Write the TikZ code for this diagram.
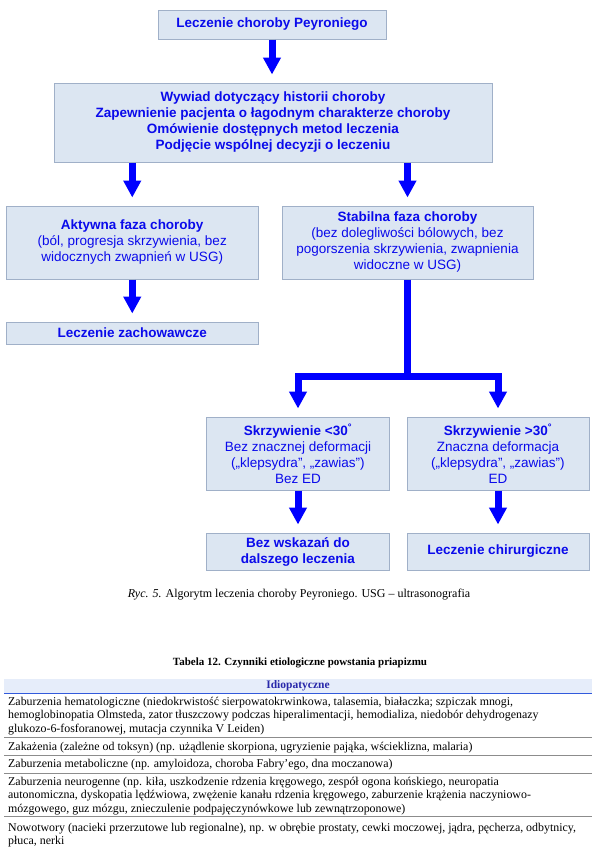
\documentclass[tikz,border=0pt]{standalone}
\usepackage{fontspec}
\setmainfont{Liberation Serif}
\newfontfamily\fcfont{Liberation Sans}
\usetikzlibrary{arrows.meta}
\definecolor{boxfill}{RGB}{220,230,242}
\definecolor{boxedge}{RGB}{160,176,200}
\definecolor{fcblue}{RGB}{0,0,255}
\definecolor{fctext}{RGB}{10,10,235}
\definecolor{hdrfill}{RGB}{230,237,250}
\definecolor{hdrline}{RGB}{50,90,220}
\definecolor{hdrtext}{RGB}{40,40,170}
\definecolor{sepgray}{RGB}{140,140,140}
\tikzset{
  fcbox/.style={draw=boxedge, fill=boxfill, line width=1, inner sep=0, align=center,
    text=fctext, font=\fcfont\fontsize{13.5}{16}\selectfont},
  blk/.style={draw=fcblue, line width=7, -{Triangle[length=17pt,width=17pt]}, shorten >=8pt},
  barline/.style={draw=fcblue, line width=7},
  tabtext/.style={anchor=base west, inner sep=0, font=\fontsize{11.9}{13.5}\selectfont},
  sepline/.style={draw=sepgray, line width=0.8},
}
\begin{document}
\begin{tikzpicture}[x=1pt,y=-1pt]
\fill[white] (0,0) rectangle (600,857);
\useasboundingbox (0,0) rectangle (600,857);

% flowchart boxes
\node[fcbox, minimum width=228, minimum height=29] (top) at (272,24.5) {\textbf{Leczenie choroby Peyroniego}};
\node[fcbox, minimum width=438, minimum height=79] (hist) at (273,122.5) {\textbf{Wywiad dotyczący historii choroby}\\\textbf{Zapewnienie pacjenta o łagodnym charakterze choroby}\\\textbf{Omówienie dostępnych metod leczenia}\\\textbf{Podjęcie wspólnej decyzji o leczeniu}};
\node[fcbox, minimum width=251.5, minimum height=73] (akt) at (132.25,242.5) {\textbf{Aktywna faza choroby}\\(ból, progresja skrzywienia, bez\\widocznych zwapnień w USG)};
\node[fcbox, minimum width=251, minimum height=73] (stab) at (407.5,242.5) {\textbf{Stabilna faza choroby}\\(bez dolegliwości bólowych, bez\\pogorszenia skrzywienia, zwapnienia\\widoczne w USG)};
\node[fcbox, minimum width=251.5, minimum height=22] (zach) at (132.25,333) {\textbf{Leczenie zachowawcze}};
\node[fcbox, minimum width=183, minimum height=73] (skL) at (298,453.5) {\textbf{Skrzywienie <30\textsuperscript{°}}\\Bez znacznej deformacji\\(„klepsydra”, „zawias”)\\Bez ED};
\node[fcbox, minimum width=182, minimum height=73] (skR) at (498,453.5) {\textbf{Skrzywienie >30\textsuperscript{°}}\\Znaczna deformacja\\(„klepsydra”, „zawias”)\\ED};
\node[fcbox, minimum width=183, minimum height=37] (bezL) at (298,551.5) {\textbf{Bez wskazań do}\\\textbf{dalszego leczenia}};
\node[fcbox, minimum width=182, minimum height=37] (chir) at (498,551.5) {\textbf{Leczenie chirurgiczne}};

% connectors
\draw[blk] (top.south) -- (top.south |- hist.north);
\draw[blk] (hist.south -| akt.north) -- (akt.north);
\draw[blk] (hist.south -| stab.north) -- (stab.north);
\draw[blk] (akt.south) -- (zach.north);
\coordinate (jn) at (407.5,376);
\draw[barline] (stab.south) -- (jn);
\draw[blk] (jn) -| (skL.north);
\draw[blk] (jn) -| (skR.north);
\draw[blk] (skL.south) -- (bezL.north);
\draw[blk] (skR.south) -- (chir.north);

% caption
\node[inner sep=0, font=\fontsize{12}{14}\selectfont] (cap) at (299,595) {\textit{Ryc. 5.} Algorytm leczenia choroby Peyroniego. USG – ultrasonografia};

% table
\node[inner sep=0, font=\bfseries\fontsize{11}{13}\selectfont] (ttl) at (300,663) {Tabela 12. Czynniki etiologiczne powstania priapizmu};
\fill[hdrfill] (4,679) rectangle (592,693);
\draw[hdrline, line width=1] (4,693) -- (592,693);
\node[inner sep=0, text=hdrtext, font=\bfseries\fontsize{11.5}{12}\selectfont] (hdr) at (298,686) {Idiopatyczne};

\node[tabtext] (r1a) at (8,705) {Zaburzenia hematologiczne (niedokrwistość sierpowatokrwinkowa, talasemia, białaczka; szpiczak mnogi,};
\node[tabtext] (r1b) at (8,718.5) {hemoglobinopatia Olmsteda, zator tłuszczowy podczas hiperalimentacji, hemodializa, niedobór dehydrogenazy};
\node[tabtext] (r1c) at (8,732) {glukozo-6-fosforanowej, mutacja czynnika V Leiden)};
\draw[sepline] (4,737) -- (592,737);
\node[tabtext] (r2a) at (8,750) {Zakażenia (zależne od toksyn) (np. użądlenie skorpiona, ugryzienie pająka, wścieklizna, malaria)};
\draw[sepline] (4,755) -- (592,755);
\node[tabtext] (r3a) at (8,767.5) {Zaburzenia metaboliczne (np. amyloidoza, choroba Fabry’ego, dna moczanowa)};
\draw[sepline] (4,773) -- (592,773);
\node[tabtext] (r4a) at (8,785) {Zaburzenia neurogenne (np. kiła, uszkodzenie rdzenia kręgowego, zespół ogona końskiego, neuropatia};
\node[tabtext] (r4b) at (8,798.5) {autonomiczna, dyskopatia lędźwiowa, zwężenie kanału rdzenia kręgowego, zaburzenie krążenia naczyniowo-};
\node[tabtext] (r4c) at (8,812) {mózgowego, guz mózgu, znieczulenie podpajęczynówkowe lub zewnątrzoponowe)};
\draw[sepline] (4,816) -- (592,816);
\node[tabtext] (r5a) at (8,831) {Nowotwory (nacieki przerzutowe lub regionalne), np. w obrębie prostaty, cewki moczowej, jądra, pęcherza, odbytnicy,};
\node[tabtext] (r5b) at (8,844.5) {płuca, nerki};
\end{tikzpicture}
\end{document}
